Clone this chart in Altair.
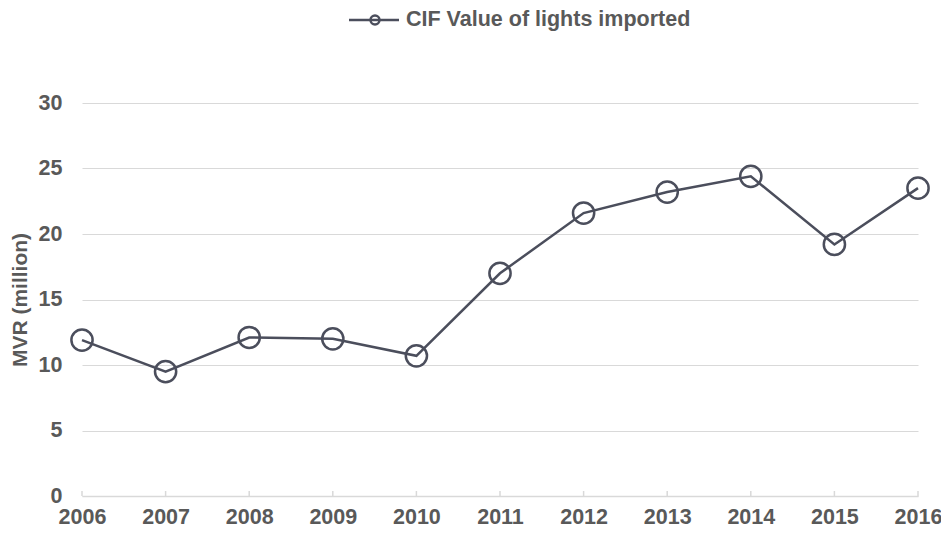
import altair as alt
import pandas as pd

years = [2006, 2007, 2008, 2009, 2010, 2011, 2012, 2013, 2014, 2015, 2016]
values = [11.9, 9.5, 12.1, 12.0, 10.7, 17.0, 21.6, 23.2, 24.4, 19.2, 23.5]
y_ticks = [0, 5, 10, 15, 20, 25, 30]
series_name = "CIF Value of lights imported"
y_title = "MVR (million)"

LINE = "#4b4e5c"
TEXT = "#595959"
GRID = "#d9d9d9"
FONT = "Liberation Sans"
FS = 21.5

df = pd.DataFrame({"year": years, "value": values})
tk = pd.DataFrame({"year": years})
leg = pd.DataFrame({"label": [series_name]})

xscale = alt.Scale(domain=[years[0], years[-1]], nice=False, zero=False)
x = alt.X("year:Q", scale=xscale,
          axis=alt.Axis(values=years, format="d", title=None, grid=False,
                        domain=True, domainColor=GRID, domainWidth=1.5,
                        ticks=False, labelFlush=False,
                        labelFont=FONT, labelFontSize=FS, labelFontWeight="bold",
                        labelColor=TEXT, labelPadding=10))
y = alt.Y("value:Q",
          scale=alt.Scale(domain=[0, 30], nice=False),
          axis=alt.Axis(values=y_ticks, title=y_title, grid=True, gridColor=GRID,
                        gridWidth=1, domain=False, ticks=False, labelFlush=False,
                        labelFont=FONT, labelFontSize=FS, labelFontWeight="bold",
                        labelColor=TEXT, labelPadding=20,
                        titleFont=FONT, titleFontSize=21, titleFontWeight="bold",
                        titleColor=TEXT, titlePadding=8))

# inward tick marks at each year
ticks = alt.Chart(tk).mark_rule(color=GRID, strokeWidth=1.5).encode(
    x=alt.X("year:Q", scale=xscale), y=alt.value(393), y2=alt.value(388))

line = alt.Chart(df).mark_line(color=LINE, strokeWidth=2.5).encode(x=x, y=y)
pts = alt.Chart(df).mark_point(shape="circle", size=450, filled=False,
                               color=LINE, strokeWidth=2.5, opacity=1).encode(x=x, y=y)

leg_rule = alt.Chart(leg).mark_rule(color=LINE, strokeWidth=2.5).encode(
    x=alt.value(267), x2=alt.value(317), y=alt.value(-83))
leg_pt = alt.Chart(leg).mark_point(shape="circle", size=80, filled=False,
                                   color=LINE, strokeWidth=2.5, opacity=1).encode(
    x=alt.value(293), y=alt.value(-83))
leg_text = alt.Chart(leg).mark_text(align="left", baseline="middle", font=FONT,
                                    fontSize=FS, fontWeight="bold", color=TEXT).encode(
    x=alt.value(324), y=alt.value(-83), text="label:N")

chart = alt.layer(ticks, line, pts, leg_rule, leg_pt, leg_text).properties(
    width=836, height=393,
    autosize=alt.AutoSizeParams(type="none"),
    padding={"left": 74, "top": 95, "right": 23, "bottom": 33},
).configure_view(stroke=None)

chart.save("out.html", embed_options={"renderer": "svg", "actions": False})
